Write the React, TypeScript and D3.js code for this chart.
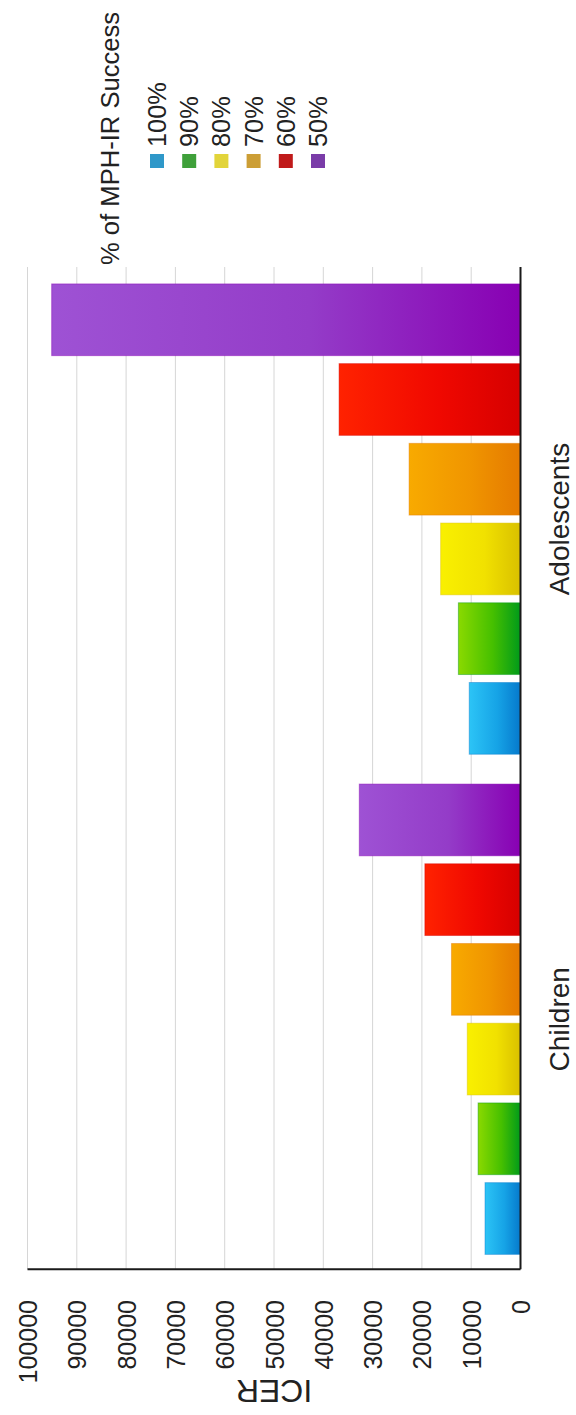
import React from "react";
import * as d3 from "d3";

// ICER by age group and % of MPH-IR success
const categories = ["Children", "Adolescents"];
const seriesLabels = ["100%", "90%", "80%", "70%", "60%", "50%"];
const childrenICER = [7200, 8600, 10800, 14000, 19400, 32700];
const adolescentsICER = [10400, 12600, 16200, 22600, 36800, 95100];
const icerTicks = [0, 10000, 20000, 30000, 40000, 50000, 60000, 70000, 80000, 90000, 100000];

const valueTitle = "ICER";
const legendTitle = "% of MPH-IR Success";

// bar fills: tip colour -> base colour, plus legend swatches
const tipColors = ["#2cc4f6", "#8ad900", "#f9f000", "#f8aa00", "#ff2200", "#9e52d4"];
const midColors = ["#16a3e6", "#46c000", "#f1e100", "#f09500", "#f00800", "#943cc8"];
const baseColors = ["#0679cc", "#009a1a", "#d9c000", "#e57a00", "#d60000", "#8800b3"];
const swatchColors = ["#2f98c9", "#3fa03a", "#e2d43a", "#cc9e35", "#c01a1a", "#7a3ca8"];

const W = 576;
const H = 1415;
const FONT = "'Liberation Sans', Arial, Helvetica, sans-serif";

export default function App() {
  // the chart is laid out as a column chart in a frame that is turned a quarter turn
  const frameW = H;
  const plotLeft = 145.7;
  const plotRight = 1146;
  const plotTop = 27.5;
  const plotBottom = 520.5;

  const y = d3.scaleLinear().domain([0, 100000]).range([plotBottom, plotTop]);
  const x0 = d3.scaleBand<string>().domain(categories).range([plotLeft, plotRight]);
  const x1 = d3
    .scaleBand<string>()
    .domain(seriesLabels)
    .range([0, x0.bandwidth()])
    .paddingInner(0.1)
    .paddingOuter(0.187);

  const rows = [
    { cat: categories[0], values: childrenICER },
    { cat: categories[1], values: adolescentsICER },
  ];

  const legendX = 1247;
  const legendY0 = 157;
  const legendStep = 32.2;

  return (
    <svg
      width={W}
      height={H}
      style={{ position: "absolute", left: 0, top: 0, background: "#fff" }}
      fontFamily={FONT}
    >
      <defs>
        {seriesLabels.map((s, i) => (
          <linearGradient key={s} id={`fill-${i}`} x1="0" y1="0" x2="0" y2="1">
            <stop offset="0%" stopColor={tipColors[i]} />
            <stop offset="55%" stopColor={midColors[i]} />
            <stop offset="100%" stopColor={baseColors[i]} />
          </linearGradient>
        ))}
      </defs>
      <rect x={0} y={0} width={W} height={H} fill="#fff" />
      <g transform={`translate(0,${frameW}) rotate(-90)`}>
        {/* grid */}
        {icerTicks.map((t) => (
          <line
            key={`g${t}`}
            x1={plotLeft}
            x2={plotRight + 2}
            y1={y(t)}
            y2={y(t)}
            stroke="#d6d6d6"
            strokeWidth={1}
          />
        ))}
        {/* bars */}
        {rows.map((r) => (
          <g key={r.cat} transform={`translate(${x0(r.cat)},0)`}>
            {r.values.map((v, i) => (
              <rect
                key={seriesLabels[i]}
                x={x1(seriesLabels[i])}
                y={y(v)}
                width={x1.bandwidth()}
                height={y(0) - y(v)}
                fill={`url(#fill-${i})`}
                stroke={baseColors[i]}
                strokeOpacity={0.45}
                strokeWidth={1}
              />
            ))}
          </g>
        ))}
        {/* axes */}
        <line x1={plotLeft} x2={plotLeft} y1={plotTop} y2={plotBottom} stroke="#1a1a1a" strokeWidth={2} />
        <line x1={plotLeft} x2={plotRight + 2} y1={plotBottom} y2={plotBottom} stroke="#1a1a1a" strokeWidth={2} />
        {/* value tick labels */}
        {icerTicks.map((t) => (
          <text
            key={`t${t}`}
            x={115}
            y={y(t)}
            dy="0.38em"
            textAnchor="end"
            fontSize={25}
            fill="#222"
          >
            {t}
          </text>
        ))}
        <text
          transform={`translate(35,${(plotTop + plotBottom) / 2}) rotate(-90)`}
          textAnchor="middle"
          fontSize={32}
          fill="#222"
        >
          {valueTitle}
        </text>
        {/* category labels */}
        {categories.map((c) => (
          <text
            key={c}
            x={(x0(c) as number) + x0.bandwidth() / 2}
            y={568.5}
            textAnchor="middle"
            fontSize={28}
            fill="#222"
          >
            {c}
          </text>
        ))}
        {/* legend */}
        <text x={1150} y={119} fontSize={25.6} fill="#222">
          {legendTitle}
        </text>
        {seriesLabels.map((s, i) => (
          <g key={`l${s}`}>
            <rect
              x={legendX}
              y={legendY0 + i * legendStep - 7}
              width={14}
              height={14}
              fill={swatchColors[i]}
            />
            <text x={1268} y={legendY0 + i * legendStep + 9} fontSize={25.4} fill="#222">
              {s}
            </text>
          </g>
        ))}
      </g>
    </svg>
  );
}
